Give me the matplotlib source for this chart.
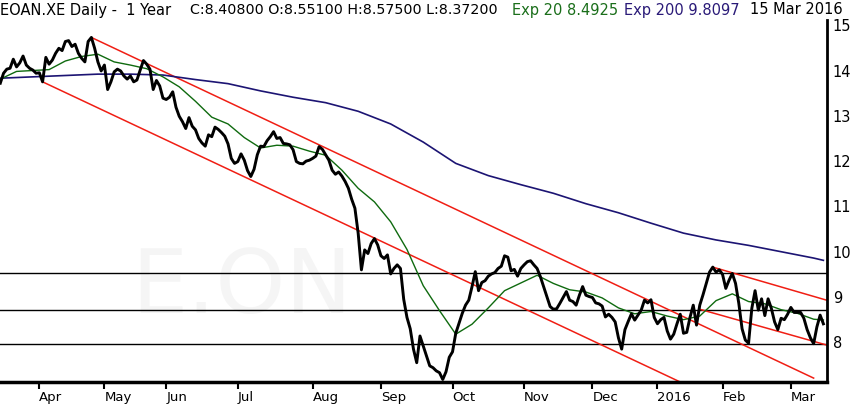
import numpy as np
import pandas as pd
import matplotlib
matplotlib.use("Agg")
import matplotlib.pyplot as plt

# Xetra trading days, 16 Mar 2015 .. 15 Mar 2016
holidays = ["2015-04-03", "2015-04-06", "2015-05-01", "2015-05-25",
            "2015-12-24", "2015-12-25", "2015-12-31", "2016-01-01"]
days = pd.bdate_range("2015-03-16", "2016-03-15")
days = days[~days.isin(pd.to_datetime(holidays))]

# daily closes
close = [
    13.72, 13.94, 14.03, 14.05, 14.25, 14.08, 14.17, 14.32, 14.12, 14.05,
    14.01, 13.94, 13.95, 13.75, 14.29, 14.14, 14.23, 14.38, 14.49, 14.44,
    14.64, 14.66, 14.53, 14.58, 14.38, 14.27, 14.19, 14.64, 14.73, 14.49,
    14.19, 13.99, 14.12, 13.58, 13.75, 13.97, 14.03, 13.99, 13.88, 13.81,
    13.88, 13.75, 13.79, 14.01, 14.22, 14.14, 14.03, 13.58, 13.78, 13.66,
    13.39, 13.36, 13.41, 13.53, 13.19, 12.99, 12.87, 12.72, 12.96, 12.77,
    12.69, 12.50, 12.40, 12.33, 12.58, 12.54, 12.75, 12.70, 12.63, 12.55,
    12.38, 12.06, 11.95, 11.99, 12.16, 12.02, 11.79, 11.66, 11.82, 12.14,
    12.33, 12.32, 12.45, 12.54, 12.65, 12.50, 12.52, 12.39, 12.38, 12.36,
    12.25, 11.99, 11.95, 11.94, 12.00, 12.02, 12.06, 12.11, 12.32, 12.26,
    12.14, 12.02, 11.80, 11.71, 11.76, 11.67, 11.55, 11.40, 11.16, 10.96,
    10.41, 9.60, 10.04, 9.96, 10.18, 10.29, 10.15, 9.91, 9.85, 9.93,
    9.51, 9.63, 9.71, 9.63, 8.95, 8.55, 8.30, 7.85, 7.55, 8.14,
    7.92, 7.70, 7.48, 7.44, 7.37, 7.33, 7.18, 7.35, 7.67, 7.79,
    8.20, 8.42, 8.64, 8.82, 8.93, 9.23, 9.56, 9.14, 9.32, 9.36,
    9.46, 9.51, 9.54, 9.63, 9.68, 9.91, 9.88, 9.58, 9.61, 9.46,
    9.63, 9.71, 9.78, 9.80, 9.71, 9.63, 9.45, 9.23, 9.01, 8.79,
    8.73, 8.74, 8.86, 8.99, 9.12, 8.93, 8.90, 8.82, 9.04, 9.23,
    9.04, 9.01, 8.99, 8.87, 8.85, 8.80, 8.56, 8.62, 8.55, 8.45,
    8.10, 7.85, 8.28, 8.46, 8.63, 8.49, 8.60, 8.71, 8.93, 8.87,
    8.94, 8.55, 8.41, 8.50, 8.55, 8.25, 8.07, 8.18, 8.41, 8.62,
    8.20, 8.22, 8.55, 8.82, 8.38, 8.82, 9.05, 9.30, 9.55, 9.66,
    9.55, 9.60, 9.50, 9.19, 9.37, 9.52, 9.30, 8.86, 8.30, 8.05,
    7.98, 8.75, 9.14, 8.71, 8.96, 8.59, 8.96, 8.75, 8.45, 8.28,
    8.53, 8.50, 8.62, 8.77, 8.66, 8.66, 8.66, 8.53, 8.28, 8.10,
    7.97, 8.34, 8.60, 8.408,
]

# moving averages, read at every 5th / 10th trading day
ema20_day = list(range(0, 251, 5)) + [253]
ema20 = [
    13.81, 13.98, 14.00, 14.02, 14.21, 14.31, 14.36, 14.19, 14.12, 14.04,
    13.86, 13.64, 13.32, 12.97, 12.82, 12.52, 12.29, 12.35, 12.33, 12.22,
    12.13, 11.80, 11.40, 11.10, 10.66, 10.05, 9.25, 8.70, 8.18, 8.40,
    8.76, 9.14, 9.31, 9.48, 9.30, 9.16, 9.11, 8.98, 8.76, 8.63,
    8.68, 8.58, 8.50, 8.58, 8.92, 9.07, 8.90, 8.85, 8.72, 8.64,
    8.51, 8.4925,
]
ema200_day = list(range(0, 251, 10)) + [253]
ema200 = [
    13.83, 13.86, 13.89, 13.92, 13.92, 13.90, 13.80, 13.71, 13.55, 13.41,
    13.29, 13.10, 12.82, 12.42, 11.95, 11.68, 11.48, 11.29, 11.06, 10.86,
    10.63, 10.41, 10.26, 10.14, 10.00, 9.86, 9.8097,
]

# drawn support / resistance
levels = [9.53, 8.71, 7.97]
trend_days = [(28, 250), (13, 210), (219, 254), (215, 254)]
trend_prices = [(14.73, 7.21), (13.75, 7.09), (9.66, 8.93), (8.73, 7.94)]

header = "EOAN.XE Daily -  1 Year"
quote = "C:8.40800 O:8.55100 H:8.57500 L:8.37200"

assert len(close) == len(days)
x = np.arange(len(days))

fig = plt.figure(figsize=(8.5, 4.08), dpi=100)
ax = fig.add_axes([0, 26 / 408, 827.3 / 850, 362 / 408])

ax.text(0.2925, 0.257, "E.ON", transform=ax.transAxes, fontsize=64,
        color="#f5f5f5", ha="center", va="center", zorder=0)

for lv in levels:
    ax.axhline(lv, color="black", lw=1.0, zorder=1)
for d, p in zip(trend_days, trend_prices):
    ax.plot(d, p, color="#f01e14", lw=1.1, zorder=2)

ax.plot(ema200_day, ema200, color="#1c1473", lw=1.2, zorder=3)
ax.plot(ema20_day, ema20, color="#0f6a0f", lw=1.0, zorder=4)
ax.plot(x, close, color="black", lw=2.1, zorder=5)

ax.set_xlim(-0.09, 254.2)
ax.set_ylim(7.124, 15.115)

for s in ["left", "top"]:
    ax.spines[s].set_visible(False)
ax.spines["right"].set_linewidth(2)
ax.spines["bottom"].set_linewidth(2.5)

ax.yaxis.tick_right()
ax.set_yticks(range(8, 16))
ax.tick_params(axis="y", length=0, pad=4, labelsize=10.5)

month_start = [i for i in range(1, len(days)) if days[i].month != days[i - 1].month]
labels = ["2016" if days[i].month == 1 else days[i].strftime("%b") for i in month_start]
ax.set_xticks(month_start)
ax.set_xticklabels(labels)
ax.tick_params(axis="x", direction="out", length=5, width=1.5, pad=1.5, labelsize=9.5)
for lab in ax.get_xticklabels():
    lab.set_ha("left")

ty = 1 - 10 / 408
fig.text(0, ty, header, fontsize=10.5, va="center")
fig.text(190 / 850, ty, quote, fontsize=10.3, va="center")
fig.text(512 / 850, ty, "Exp 20 8.4925", color="#1a6e1a", fontsize=10.5, va="center")
fig.text(624 / 850, ty, "Exp 200 9.8097", color="#2a1a78", fontsize=10.5, va="center")
fig.text(750 / 850, ty, "15 Mar 2016", fontsize=10.5, va="center")

fig.savefig("out.png", dpi=100)
